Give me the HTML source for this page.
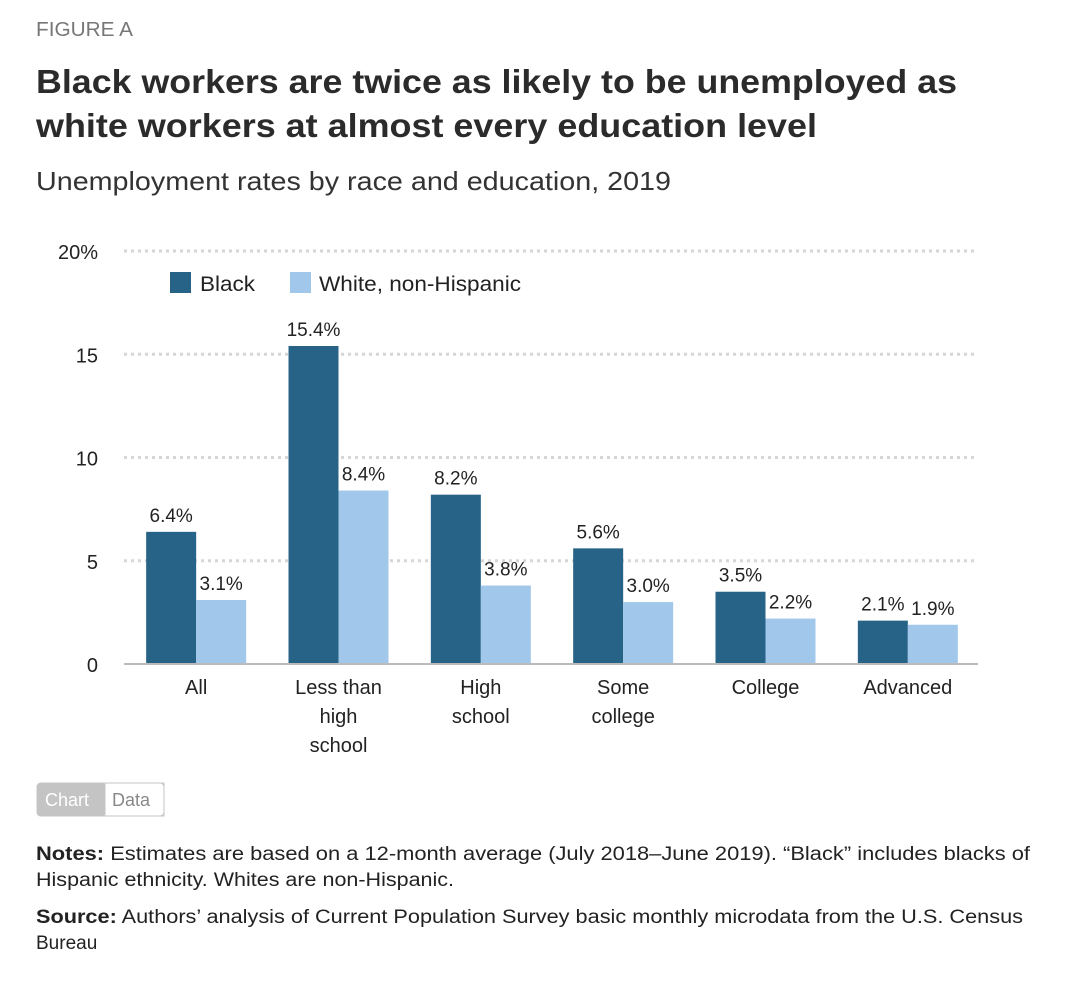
<!DOCTYPE html>
<html><head><meta charset="utf-8"><style>
body{margin:0;background:#fff;width:1080px;height:977px;overflow:hidden;font-family:"Liberation Sans",sans-serif;}
svg text{font-family:"Liberation Sans",sans-serif;}
</style></head><body>
<svg id="chart" width="1080" height="977" xmlns="http://www.w3.org/2000/svg">
<text x="36" y="36" font-size="20" fill="#777" textLength="97" lengthAdjust="spacingAndGlyphs">FIGURE A</text>
<text x="36" y="93" font-size="33" font-weight="bold" fill="#2b2b2b" textLength="921" lengthAdjust="spacingAndGlyphs">Black workers are twice as likely to be unemployed as</text>
<text x="36" y="137" font-size="33" font-weight="bold" fill="#2b2b2b" textLength="781" lengthAdjust="spacingAndGlyphs">white workers at almost every education level</text>
<text x="36" y="190" font-size="26" fill="#333" textLength="635" lengthAdjust="spacingAndGlyphs">Unemployment rates by race and education, 2019</text>
<g id="grid"></g>
<g id="bars"></g>
<g>
<rect x="170" y="272" width="21" height="21" fill="#276386"/>
<text x="200" y="291" font-size="21" fill="#222" textLength="55" lengthAdjust="spacingAndGlyphs">Black</text>
<rect x="290" y="272" width="21" height="21" fill="#a1c7ea"/>
<text x="319" y="291" font-size="21" fill="#222" textLength="202" lengthAdjust="spacingAndGlyphs">White, non-Hispanic</text>
</g>
<g>
<rect x="37" y="783" width="68" height="33" rx="4" fill="#c4c4c4" stroke="#c4c4c4"/>
<rect x="105" y="783" width="59" height="33" fill="#fff" stroke="#c4c4c4"/>
<rect x="37" y="783" width="127" height="33" rx="4" fill="none" stroke="#c4c4c4"/>
<text x="45" y="806" font-size="18" fill="#fff">Chart</text>
<text x="112" y="806" font-size="18" fill="#888">Data</text>
</g>
<text x="36" y="860" font-size="19" fill="#222" textLength="994" lengthAdjust="spacingAndGlyphs"><tspan font-weight="bold">Notes:</tspan> Estimates are based on a 12-month average (July 2018–June 2019). “Black” includes blacks of</text>
<text x="36" y="886" font-size="19" fill="#222" textLength="418" lengthAdjust="spacingAndGlyphs">Hispanic ethnicity. Whites are non-Hispanic.</text>
<text x="36" y="923" font-size="19" fill="#222" textLength="987" lengthAdjust="spacingAndGlyphs"><tspan font-weight="bold">Source:</tspan> Authors’ analysis of Current Population Survey basic monthly microdata from the U.S. Census</text>
<text x="36" y="949" font-size="19" fill="#222">Bureau</text>
</svg>
<script>
const categories = [["All"],["Less than","high","school"],["High","school"],["Some","college"],["College"],["Advanced"]];
const blackValues = [6.4,15.4,8.2,5.6,3.5,2.1];
const whiteValues = [3.1,8.4,3.8,3.0,2.2,1.9];
const tickValues = [0,5,10,15,20];
const tickLabels = ["0","5","10","15","20%"];
const NS="http://www.w3.org/2000/svg";
const y0=664, yTop=251, vMax=20, xL=124, xR=978;
const y=v=>y0-(v/vMax)*(y0-yTop);
const step=(xR-xL)/categories.length, bw=50;
function mk(tag,attrs,parent,txt){const e=document.createElementNS(NS,tag);for(const k in attrs)e.setAttribute(k,attrs[k]);if(txt!==undefined)e.textContent=txt;parent.appendChild(e);return e;}
const grid=document.getElementById('grid'), bars=document.getElementById('bars');
tickValues.forEach((v,i)=>{
  if(v>0){const l=mk('line',{x1:xL,x2:xR,y1:y(v),y2:y(v),stroke:'#d6d6d6','stroke-width':3,'stroke-dasharray':'3 4'},grid);
  
  }
  const t=mk('text',{x:98,y:y(v)+8,'font-size':20,'text-anchor':'end',fill:'#222'},grid,tickLabels[i]);
  
  
});
categories.forEach((c,i)=>{
  const center=xL+step*(i+0.5)+1;
  [[blackValues[i],'#276386',center-bw],[whiteValues[i],'#a1c7ea',center]].forEach(([v,col,x],j)=>{
    const r=mk('rect',{x:x,y:y(v),width:bw,height:y0-y(v),fill:col},bars);
    
    
    const t=mk('text',{x:x+bw/2,y:y(v)-10,'font-size':19,'text-anchor':'middle',fill:'#222'},bars,v.toFixed(1)+'%');
    
    
  });
  const t=mk('text',{'font-size':20,'text-anchor':'middle',fill:'#222'},bars);
  
  
  c.forEach((line,k)=>mk('tspan',{x:center,y:694+k*29},t,line));
});
const base=mk('line',{x1:xL,x2:xR,y1:y0,y2:y0,stroke:'#bbb','stroke-width':2},bars);


</script>
</body></html>
